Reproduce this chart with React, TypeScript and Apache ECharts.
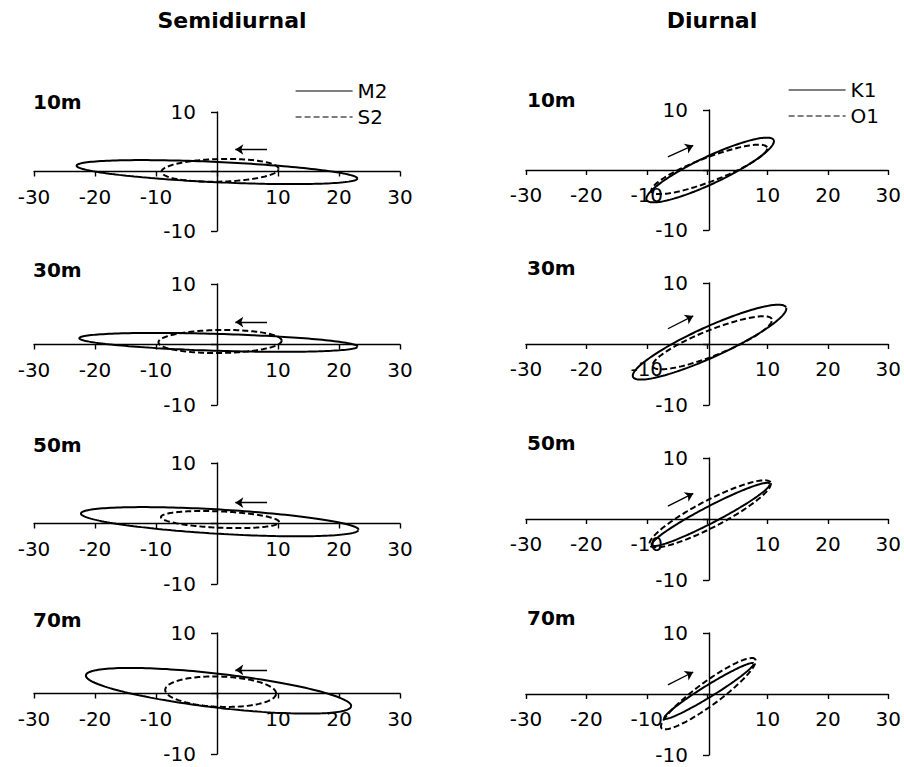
import React, { useEffect, useRef } from "react";
import * as echarts from "echarts";

// ---- data ----
const depths = ["10m", "30m", "50m", "70m"];
const xTickValues = [-30, -20, -10, 0, 10, 20, 30];
const yTickValues = [-10, 0, 10];

// Semidiurnal constituents: centre, semi-major, semi-minor, inclination (deg)
const m2CenterX = [0, 0.25, 0.45, 0.25];
const m2CenterY = [-0.1, 0.35, 0.3, 0.45];
const m2Major = [23.05, 22.85, 22.8, 21.9];
const m2Minor = [1.7, 1.4, 2.0, 2.8];
const m2Incl = [-2.7, -1.75, -3.4, -6.7];

const s2CenterX = [0.5, 0.5, 0.5, 0.6];
const s2CenterY = [0.2, 0.5, 0.65, 0.3];
const s2Major = [9.6, 10.1, 9.7, 9.1];
const s2Minor = [1.9, 1.9, 1.35, 2.5];
const s2Incl = [1.5, 0.8, -2.5, -2];

// Diurnal constituents
const k1CenterX = [0.5, 0.4, 0.6, 0.3];
const k1CenterY = [0, 0.3, 0.75, 0.5];
const k1Major = [11.65, 13.9, 11.0, 8.66];
const k1Minor = [2.25, 2.5, 1.35, 0.95];
const k1Incl = [25.4, 24.2, 27.3, 31.4];

const o1CenterX = [0.35, 0.85, 0.5, 0.2];
const o1CenterY = [0.1, 0.2, 0.85, 0.05];
const o1Major = [10.25, 10.6, 11.25, 9.6];
const o1Minor = [2.0, 2.1, 2.2, 1.9];
const o1Incl = [21, 21.5, 27.2, 36];

// Rotation arrows (tail -> head)
const semiArrowTail = [[8.2, 3.7], [8.2, 3.7], [8.2, 3.45], [8.2, 3.9]];
const semiArrowHead = [[3.0, 3.7], [3.0, 3.7], [3.0, 3.45], [3.0, 3.9]];
const diurArrowTail = [[-6.5, 2.2], [-6.5, 2.5], [-6.5, 2.1], [-6.5, 1.5]];
const diurArrowHead = [[-2.3, 4.1], [-2.3, 4.6], [-2.3, 4.2], [-2.3, 3.6]];

const FONT = "DejaVu Sans";

function ellipsePoints(cx: number, cy: number, a: number, b: number, incDeg: number) {
  const th = (incDeg * Math.PI) / 180;
  const pts: number[][] = [];
  const n = 180;
  for (let k = 0; k <= n; k++) {
    const t = (k / n) * 2 * Math.PI;
    const u = a * Math.cos(t);
    const v = b * Math.sin(t);
    pts.push([cx + u * Math.cos(th) - v * Math.sin(th), cy + u * Math.sin(th) + v * Math.cos(th)]);
  }
  return pts;
}

// layout
const GRID_W = 366;
const leftTops = [112, 284, 463, 633];
const leftHeights = [119, 121, 121, 121];
const rightTops = [110, 283, 458, 633];
const rightHeights = [120, 122, 122, 122];
const leftLabelY = [92, 260, 435, 610];
const rightLabelY = [90, 258, 433, 608];

function buildOption() {
  const grids: any[] = [];
  const xAxes: any[] = [];
  const yAxes: any[] = [];
  const series: any[] = [];
  const graphics: any[] = [];

  const axisLineStyle = { color: "#000", width: 1.4 };
  const labelStyle = { color: "#000", fontSize: 20, fontFamily: FONT };

  for (let col = 0; col < 2; col++) {
    for (let row = 0; row < 4; row++) {
      const idx = col * 4 + row;
      const h = col === 0 ? leftHeights[row] : rightHeights[row];
      const top = col === 0 ? leftTops[row] : rightTops[row];
      grids.push({
        left: col === 0 ? 34 : 526,
        top,
        width: GRID_W,
        height: h,
        containLabel: false,
      });
      // the axes cross at (0,0), which is the middle of each symmetric panel
      xAxes.push({
        gridIndex: idx,
        type: "value",
        position: "bottom",
        offset: -h / 2,
        min: xTickValues[0],
        max: xTickValues[xTickValues.length - 1],
        interval: 10,
        axisLine: { onZero: false, lineStyle: axisLineStyle },
        axisTick: { show: true, length: 5, lineStyle: axisLineStyle },
        axisLabel: {
          ...labelStyle,
          margin: 15,
          showMinLabel: true,
          showMaxLabel: true,
          formatter: (v: number) => (v === 0 ? "" : String(v)),
        },
        splitLine: { show: false },
      });
      yAxes.push({
        gridIndex: idx,
        type: "value",
        position: "left",
        offset: -GRID_W / 2,
        min: yTickValues[0],
        max: yTickValues[yTickValues.length - 1],
        interval: 10,
        axisLine: { onZero: false, lineStyle: axisLineStyle },
        axisTick: { show: true, length: 6, lineStyle: axisLineStyle },
        axisLabel: {
          ...labelStyle,
          margin: 21,
          showMinLabel: true,
          showMaxLabel: true,
          formatter: (v: number) => (v === 0 ? "" : String(v)),
        },
        splitLine: { show: false },
      });

      const isSemi = col === 0;
      const solid = isSemi
        ? ellipsePoints(m2CenterX[row], m2CenterY[row], m2Major[row], m2Minor[row], m2Incl[row])
        : ellipsePoints(k1CenterX[row], k1CenterY[row], k1Major[row], k1Minor[row], k1Incl[row]);
      const dashed = isSemi
        ? ellipsePoints(s2CenterX[row], s2CenterY[row], s2Major[row], s2Minor[row], s2Incl[row])
        : ellipsePoints(o1CenterX[row], o1CenterY[row], o1Major[row], o1Minor[row], o1Incl[row]);
      const tail = isSemi ? semiArrowTail[row] : diurArrowTail[row];
      const head = isSemi ? semiArrowHead[row] : diurArrowHead[row];

      series.push({
        name: isSemi ? "M2" : "K1",
        type: "line",
        xAxisIndex: idx,
        yAxisIndex: idx,
        data: solid,
        symbol: "none",
        smooth: false,
        lineStyle: { color: "#000", width: 2, type: "solid" },
        itemStyle: { color: "#000" },
        markLine: {
          silent: true,
          symbol: ["none", "arrow"],
          symbolSize: 8,
          label: { show: false },
          lineStyle: { color: "#000", width: 1.3, type: "solid" },
          data: [[{ coord: tail }, { coord: head }]],
        },
      });
      series.push({
        name: isSemi ? "S2" : "O1",
        type: "line",
        xAxisIndex: idx,
        yAxisIndex: idx,
        data: dashed,
        symbol: "none",
        smooth: false,
        lineStyle: { color: "#000", width: 2, type: [6, 3] },
        itemStyle: { color: "#000" },
      });

      graphics.push({
        type: "text",
        x: col === 0 ? 33 : 527,
        y: col === 0 ? leftLabelY[row] : rightLabelY[row],
        style: {
          text: depths[row],
          fill: "#000",
          font: `bold 20px "${FONT}"`,
          textAlign: "left",
          textVerticalAlign: "top",
        },
      });
    }
  }

  graphics.push({
    type: "text",
    x: 232,
    y: 9,
    style: {
      text: "Semidiurnal",
      fill: "#000",
      font: `bold 22px "${FONT}"`,
      textAlign: "center",
      textVerticalAlign: "top",
    },
  });
  graphics.push({
    type: "text",
    x: 712,
    y: 9,
    style: {
      text: "Diurnal",
      fill: "#000",
      font: `bold 22px "${FONT}"`,
      textAlign: "center",
      textVerticalAlign: "top",
    },
  });

  const legendCommon = {
    orient: "vertical",
    itemWidth: 57,
    itemHeight: 14,
    itemGap: 6,
    textStyle: { color: "#000", fontSize: 20, fontFamily: FONT },
    lineStyle: { width: 1.2 },
    itemStyle: { color: "transparent", borderColor: "transparent", borderWidth: 0, opacity: 0 },
    selectedMode: false,
  };

  return {
    animation: false,
    backgroundColor: "#fff",
    textStyle: { fontFamily: FONT },
    legend: [
      { ...legendCommon, data: ["M2", "S2"], left: 290, top: 76 },
      { ...legendCommon, data: ["K1", "O1"], left: 783, top: 75 },
    ],
    grid: grids,
    xAxis: xAxes,
    yAxis: yAxes,
    series,
    graphic: graphics,
  };
}

export default function App() {
  const ref = useRef<HTMLDivElement>(null);
  useEffect(() => {
    document.body.style.margin = "0";
    if (!ref.current) return;
    const chart = echarts.init(ref.current, null, { renderer: "svg" });
    chart.setOption(buildOption() as any);
    return () => chart.dispose();
  }, []);
  return <div ref={ref} style={{ width: 904, height: 767 }} />;
}
